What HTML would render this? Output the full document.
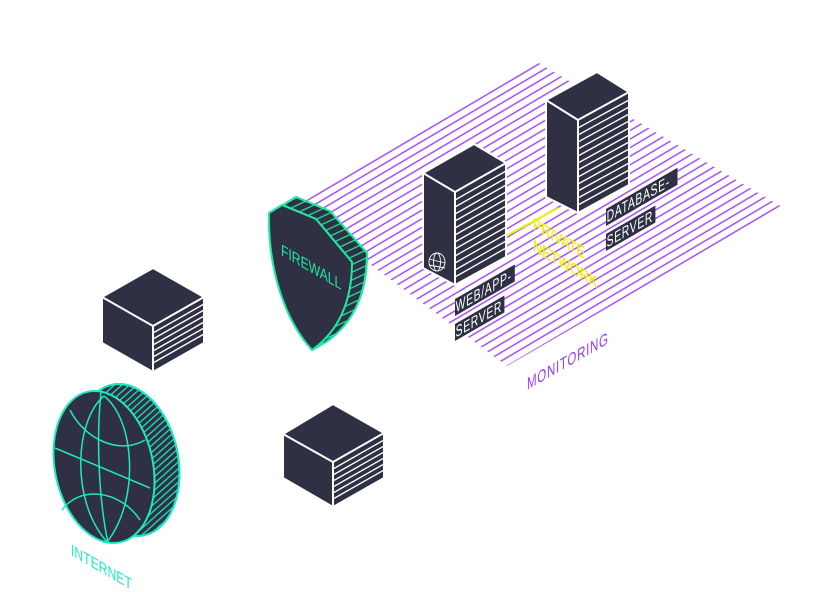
<!DOCTYPE html>
<html><head><meta charset="utf-8"><style>
html,body{margin:0;padding:0;background:#fff;}
svg{display:block;}
text{font-family:"Liberation Sans",sans-serif;}
</style></head><body>
<svg width="832" height="592" viewBox="0 0 832 592" xmlns="http://www.w3.org/2000/svg">
<defs>
<pattern id="hp" patternUnits="userSpaceOnUse" width="40" height="7.4" patternTransform="rotate(-30.5)">
<line x1="0" y1="3" x2="40" y2="3" stroke="#9b3bff" stroke-width="1.3"/>
</pattern>
<pattern id="gh" patternUnits="userSpaceOnUse" width="20" height="5" patternTransform="rotate(-30)">
<line x1="0" y1="2.5" x2="20" y2="2.5" stroke="#1de9c0" stroke-width="1.2"/>
</pattern>
<pattern id="fh" patternUnits="userSpaceOnUse" width="20" height="7" patternTransform="rotate(-25)">
<line x1="0" y1="3.5" x2="20" y2="3.5" stroke="#1de9a0" stroke-width="1.3"/>
</pattern>
</defs>

<polygon points="293,207 537,62 782,207 507,366" fill="url(#hp)"/>

<!-- DB server -->
<g stroke="#fff" stroke-width="2" stroke-linejoin="round">
<polygon points="546,100 597,72 629,92 629,185 578,213 546,197" fill="#2f3044"/>
<polyline points="546,100 578,120 629,92" fill="none"/>
<line x1="578" y1="120" x2="578" y2="213"/>
</g>
<g stroke="#fff" stroke-width="1.3">
<line x1="578" y1="128" x2="629" y2="100"/><line x1="578" y1="135" x2="629" y2="107"/>
<line x1="578" y1="142" x2="629" y2="114"/><line x1="578" y1="149" x2="629" y2="121"/>
<line x1="578" y1="156" x2="629" y2="128"/><line x1="578" y1="163" x2="629" y2="135"/>
<line x1="578" y1="170" x2="629" y2="142"/><line x1="578" y1="177" x2="629" y2="149"/>
<line x1="578" y1="184" x2="629" y2="156"/><line x1="578" y1="191" x2="629" y2="163"/>
<line x1="578" y1="198" x2="629" y2="170"/><line x1="578" y1="205" x2="629" y2="177"/>
</g>

<!-- Web server -->
<g stroke="#fff" stroke-width="2" stroke-linejoin="round">
<polygon points="423,173 474,144 506,163 506,257 455,285 423,268" fill="#2f3044"/>
<polyline points="423,173 455,192 506,163" fill="none"/>
<line x1="455" y1="192" x2="455" y2="285"/>
</g>
<g stroke="#fff" stroke-width="1.3">
<line x1="455" y1="200" x2="506" y2="171"/><line x1="455" y1="207" x2="506" y2="178"/>
<line x1="455" y1="214" x2="506" y2="185"/><line x1="455" y1="221" x2="506" y2="192"/>
<line x1="455" y1="228" x2="506" y2="199"/><line x1="455" y1="235" x2="506" y2="206"/>
<line x1="455" y1="242" x2="506" y2="213"/><line x1="455" y1="249" x2="506" y2="220"/>
<line x1="455" y1="256" x2="506" y2="227"/><line x1="455" y1="263" x2="506" y2="234"/>
<line x1="455" y1="270" x2="506" y2="241"/><line x1="455" y1="277" x2="506" y2="248"/>
</g>
<g stroke="#fff" stroke-width="0.9" fill="none">
<ellipse cx="437" cy="262" rx="8" ry="9"/>
<ellipse cx="437" cy="262" rx="3.5" ry="9"/>
<line x1="429" y1="259" x2="445" y2="263"/><line x1="429" y1="265" x2="445" y2="268"/>
</g>

<!-- private network -->
<line x1="508" y1="235" x2="558" y2="208" stroke="#f0f000" stroke-width="2"/>
<g fill="#f0f000" font-size="17" stroke="#f0f000" stroke-width="0.3">
<text transform="matrix(0.74,0.43,0,1,533,229)">PRIVATE</text>
<text transform="matrix(0.74,0.43,0,1,533,251)">NETWORK</text>
</g>

<!-- labels -->
<g transform="matrix(0.65,-0.375,0,1,455,313)">
<rect x="0" y="-14" width="92" height="17" fill="#2f3044"/>
<text x="1" y="0" fill="#fff" font-size="16" letter-spacing="1">WEB/APP-</text>
<rect x="0" y="11" width="76" height="17" fill="#2f3044"/>
<text x="1" y="25" fill="#fff" font-size="16" letter-spacing="1">SERVER</text>
</g>
<g transform="matrix(0.65,-0.375,0,1,606,223)">
<rect x="0" y="-14" width="110" height="17" fill="#2f3044"/>
<text x="1" y="0" fill="#fff" font-size="16" letter-spacing="1">DATABASE-</text>
<rect x="0" y="11" width="76" height="17" fill="#2f3044"/>
<text x="1" y="25" fill="#fff" font-size="16" letter-spacing="1">SERVER</text>
</g>
<text transform="matrix(0.68,-0.39,0,1,527,390)" fill="#9b3bff" font-size="17" letter-spacing="1">MONITORING</text>

<!-- Firewall -->
<g stroke="#1de9a0" stroke-width="2" stroke-linejoin="round">
<path d="M283,205 L296,197 L330,211 L367,253 C367,292 355,322 326,342 L312,350 C285,320 268,270 269,213 Z" fill="#2f3044"/>
<path d="M283,205 L296,197 L330,211 L367,253 C367,292 355,322 326,342 L312,350 L340,300 L352,262 L316,219 Z" fill="url(#fh)"/>
<path d="M269,213 L282,205 L316,219 L352,262 C352,300 340,330 312,350 C285,320 268,270 269,213 Z" fill="#2f3044"/>
</g>
<text transform="matrix(0.76,0.44,0,1,281,255)" fill="#1de9a0" font-size="16">FIREWALL</text>

<!-- cube 1 -->
<g stroke="#fff" stroke-width="2" stroke-linejoin="round">
<polygon points="153,268 204,297 204,343 153,372 102,343 102,297" fill="#2f3044"/>
<polyline points="102,297 153,326 204,297" fill="none"/>
<line x1="153" y1="326" x2="153" y2="372"/>
</g>
<g stroke="#fff" stroke-width="1.3">
<line x1="153" y1="333" x2="204" y2="304"/><line x1="153" y1="339" x2="204" y2="310"/>
<line x1="153" y1="345" x2="204" y2="316"/><line x1="153" y1="351" x2="204" y2="322"/>
<line x1="153" y1="357" x2="204" y2="328"/><line x1="153" y1="363" x2="204" y2="334"/>
</g>

<!-- cube 2 -->
<g stroke="#fff" stroke-width="2" stroke-linejoin="round">
<polygon points="333,404 384,433 384,478 333,507 283,478 283,434" fill="#2f3044"/>
<polyline points="283,434 333,462 384,433" fill="none"/>
<line x1="333" y1="462" x2="333" y2="507"/>
</g>
<g stroke="#fff" stroke-width="1.3">
<line x1="333" y1="469" x2="384" y2="440"/><line x1="333" y1="475" x2="384" y2="446"/>
<line x1="333" y1="481" x2="384" y2="452"/><line x1="333" y1="487" x2="384" y2="458"/>
<line x1="333" y1="493" x2="384" y2="464"/><line x1="333" y1="499" x2="384" y2="470"/>
</g>

<!-- Globe -->
<g stroke="#1de9c0" stroke-width="2">
<ellipse cx="128" cy="460" rx="50" ry="77" transform="rotate(-12 128 460)" fill="#2f3044"/>
<ellipse cx="128" cy="460" rx="50" ry="77" transform="rotate(-12 128 460)" fill="url(#gh)"/>
<ellipse cx="104" cy="467" rx="49" ry="77" transform="rotate(-12 104 467)" fill="#2f3044"/>
</g>
<g stroke="#1de9c0" stroke-width="1.5" fill="none">
<path d="M101,392 C96,440 99,500 108,543"/>
<path d="M104,396 C75,420 70,500 107,542"/>
<path d="M104,396 C135,420 140,500 107,542"/>
<path d="M55,448 L150,488"/>
<path d="M70,410 C85,440 120,455 145,440"/>
<path d="M62,510 C80,485 120,490 140,520"/>
</g>
<text transform="matrix(0.76,0.44,0,1,71,555)" fill="#1de9c0" font-size="16">INTERNET</text>
</svg>
</body></html>
